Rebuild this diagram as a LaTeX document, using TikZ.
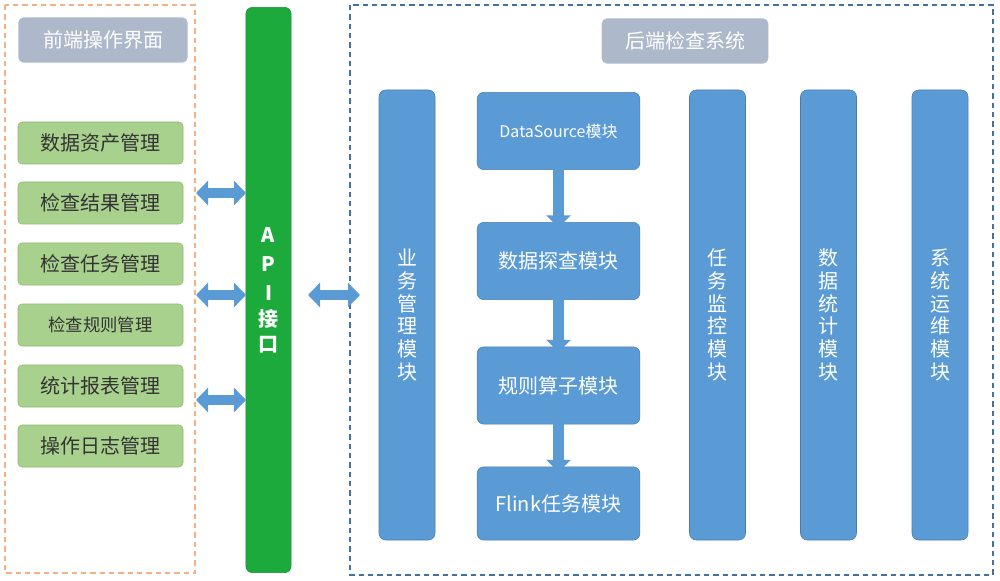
\documentclass[tikz,border=0pt]{standalone}
\usepackage{fontspec}
\setmainfont{Noto Sans CJK SC}
\usetikzlibrary{arrows.meta}
\definecolor{itemgreen}{RGB}{169,209,142}
\definecolor{itemedge}{RGB}{140,185,110}
\definecolor{apigreen}{RGB}{28,170,60}
\definecolor{modblue}{RGB}{91,155,213}
\definecolor{titlegrey}{RGB}{173,185,202}
\definecolor{frameorange}{RGB}{244,177,131}
\definecolor{frameblue}{RGB}{68,114,160}
\tikzset{
  item/.style={draw=itemedge,fill=itemgreen,rounded corners=3pt,minimum width=123.75pt,minimum height=31.5pt,font=\fontsize{15}{17}\selectfont,text=black!80},
  title/.style={fill=titlegrey,rounded corners=4pt,minimum height=34pt,text=white,font=\fontsize{15}{17}\selectfont},
  module/.style={draw=modblue!80!black,fill=modblue,rounded corners=5pt,text=white,font=\fontsize{15}{17}\selectfont},
  column/.style={module,minimum width=42pt,minimum height=337.5pt,align=center},
  box/.style={module,minimum width=122pt,minimum height=58pt},
  dblarr/.style={draw=modblue,line width=8pt,{Triangle[width=18pt,length=9pt]}-{Triangle[width=18pt,length=9pt]}},
  downarr/.style={draw=modblue,line width=8pt,-{Triangle[width=18pt,length=9pt]}}
}
\begin{document}
\begin{tikzpicture}[x=0.75pt,y=0.75pt,yscale=-1]
\useasboundingbox (0,0) rectangle (1000,581);
% frames
\draw[frameorange,dash pattern=on 4pt off 3pt,line width=1.3pt] (5,5) rectangle (195,573);
\draw[frameblue,dash pattern=on 4pt off 3pt,line width=1.3pt] (350,5) rectangle (993,575);
\node[title,minimum width=127pt] (ftitle) at (103,40) {前端操作界面};
\node[title,minimum width=125pt] (btitle) at (685,41) {后端检查系统};
% front items
\node[item] (i1) at (100.5,143) {数据资产管理};
\node[item] (i2) at (100.5,203) {检查结果管理};
\node[item] (i3) at (100.5,264) {检查任务管理};
\node[item,font=\fontsize{13}{15}\selectfont] (i4) at (100.5,325) {检查规则管理};
\node[item] (i5) at (100.5,386) {统计报表管理};
\node[item] (i6) at (100.5,446) {操作日志管理};
% api bar
\node[draw=apigreen!85!black,fill=apigreen,rounded corners=5pt,minimum width=34pt,minimum height=424pt,text=white,align=center,font=\bfseries\fontsize{15}{19}\selectfont] (api) at (268.5,290) {A\\[3pt]P\\[3pt]I\\接\\口};
% back modules
\node[column] (biz) at (407,315) {业\\务\\管\\理\\模\\块};
\node[box] (ds) at (558.5,131) {\fontsize{12}{14}\selectfont DataSource模块};
\node[box] (probe) at (558.5,261) {数据探查模块};
\node[box] (rule) at (558.5,385.5) {规则算子模块};
\node[box,minimum height=55pt] (flink) at (558.5,503.5) {Flink任务模块};
\node[column] (mon) at (717.5,315) {任\\务\\监\\控\\模\\块};
\node[column] (stat) at (828.5,315) {数\\据\\统\\计\\模\\块};
\node[column] (ops) at (940,315) {系\\统\\运\\维\\模\\块};
% arrows
\coordinate (a1) at (196,193); \coordinate (b1) at (246,193);
\coordinate (a2) at (196,295); \coordinate (b2) at (246,295);
\coordinate (a3) at (196,400); \coordinate (b3) at (246,400);
\coordinate (a4) at (308,295); \coordinate (b4) at (360,295);
\draw[dblarr] (a1) -- (b1);
\draw[dblarr] (a2) -- (b2);
\draw[dblarr] (a3) -- (b3);
\draw[dblarr] (a4) -- (b4);
\draw[downarr] ([yshift=-8]ds.south) -- ([yshift=4]probe.north);
\draw[downarr] ([yshift=-8]probe.south) -- ([yshift=4]rule.north);
\draw[downarr] ([yshift=-8]rule.south) -- ([yshift=4]flink.north);
\end{tikzpicture}
\end{document}
